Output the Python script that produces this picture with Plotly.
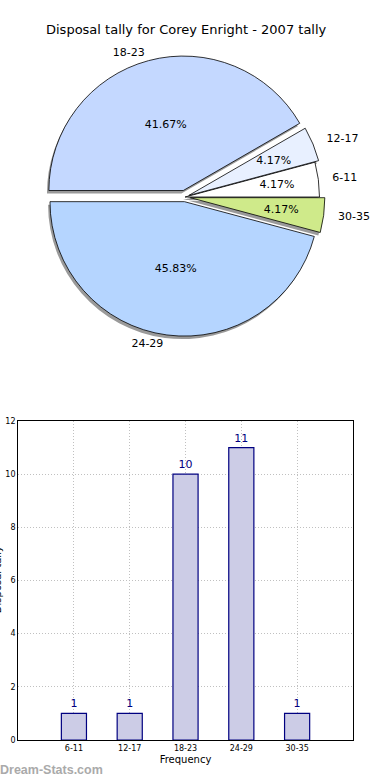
import plotly.graph_objects as go

# ---- data ----
pie_labels = ["6-11", "12-17", "18-23", "24-29", "30-35"]
pie_values = [1, 1, 10, 11, 1]
pie_colors = ["#ffffff", "#e8f0ff", "#c4d8ff", "#b5d5ff", "#cfea8a"]
pie_pull = [0.0, 0.03, 0.05, 0.035, 0.04]

bar_categories = ["6-11", "12-17", "18-23", "24-29", "30-35"]
bar_values = [1, 1, 10, 11, 1]
y_ticks = [0, 2, 4, 6, 8, 10, 12]

W, H = 390, 780
FONT = "DejaVu Sans"

def px_x(a, b):
    return [a / W, b / W]

def px_y(top, bottom):
    return [1 - bottom / H, 1 - top / H]

cx, cy, half = 194, 197, 148

def dom(scale, dx=0, dy=0):
    h = half * scale
    return dict(x=px_x(cx + dx - h, cx + dx + h), y=px_y(cy + dy - h, cy + dy + h))

small = [v <= 2 for v in pie_values]
pct_big = ["" if s else "%{percent:.2%}" for s in small]
pct_small = ["%{percent:.2%}" if s else "" for s in small]
lab_big = ["" if s else "%{label}" for s in small]
lab_small = ["%{label}" if s else "" for s in small]

ROT = 75
common = dict(labels=pie_labels, values=pie_values, sort=False,
              direction="counterclockwise", rotation=ROT, pull=pie_pull,
              hoverinfo="skip", showlegend=False)
clear = dict(colors=["rgba(0,0,0,0)"] * 5, line=dict(width=0))
tf = dict(family=FONT, size=11, color="#000000")

fig = go.Figure()

# shadow
fig.add_trace(go.Pie(**common, domain=dom(1.0, -2, 3),
    marker=dict(colors=["#9a9a9a"] * 5, line=dict(color="#9a9a9a", width=0)),
    textinfo="none"))
# main pie, percent text for large slices
fig.add_trace(go.Pie(**common, domain=dom(1.0),
    marker=dict(colors=pie_colors, line=dict(color="#000000", width=0.8)),
    texttemplate=pct_big, textposition="inside",
    insidetextorientation="horizontal", textfont=tf))
# percent text for small slices (placed further inward)
fig.add_trace(go.Pie(**common, domain=dom(0.78), marker=clear,
    texttemplate=pct_small, textposition="inside",
    insidetextorientation="horizontal", textfont=tf))
# category labels outside
fig.add_trace(go.Pie(**common, domain=dom(1.015), marker=clear,
    texttemplate=lab_big, textposition="outside", textfont=tf))
fig.add_trace(go.Pie(**common, domain=dom(1.08), marker=clear,
    texttemplate=lab_small, textposition="outside", textfont=tf))

fig.add_trace(go.Bar(
    x=bar_categories, y=bar_values, width=0.45,
    marker=dict(color="#ccccE6", line=dict(color="#000080", width=1.2)),
    text=[str(v) for v in bar_values], textposition="outside",
    textfont=dict(family=FONT, size=11, color="#000080"),
    cliponaxis=False, hoverinfo="skip", showlegend=False,
    xaxis="x", yaxis="y",
))

fig.update_layout(
    width=W, height=H, margin=dict(l=0, r=0, t=0, b=0),
    paper_bgcolor="white", plot_bgcolor="white",
    font=dict(family=FONT, color="#000000"),
    uniformtext=dict(minsize=11, mode="show"),
    xaxis=dict(domain=px_x(19, 370), range=[-1, 5], type="category",
               automargin=False,
               showline=True, linecolor="#000000", linewidth=1, mirror=True,
               showgrid=True, gridcolor="#c0c0c0", griddash="1px,2px", gridwidth=1,
               tickfont=dict(family=FONT, size=8, color="#000000"),
               ticks="", zeroline=False,
               title=dict(text="Frequency", font=dict(family=FONT, size=10), standoff=4)),
    yaxis=dict(domain=px_y(421, 740), range=[0, 12], tickvals=y_ticks,
               automargin=False,
               showline=True, linecolor="#000000", linewidth=1, mirror=True,
               showgrid=True, gridcolor="#c0c0c0", griddash="1px,2px", gridwidth=1,
               tickfont=dict(family=FONT, size=8, color="#000000"),
               ticks="", zeroline=False),
    annotations=[
        dict(text="Disposal tally for Corey Enright - 2007 tally",
             xref="paper", yref="paper", x=0.5, y=1 - 30 / H,
             xanchor="center", yanchor="middle", showarrow=False,
             font=dict(family=FONT, size=13, color="#000000")),
        dict(text="Disposal tally", textangle=-90, xref="paper", yref="paper",
             x=-3 / W, y=1 - 580 / H, xanchor="center", yanchor="middle",
             showarrow=False, font=dict(family=FONT, size=10, color="#000000")),
        dict(text="<b>Dream-Stats.com</b>", xref="paper", yref="paper",
             x=-2 / W, y=1 - 770 / H, xanchor="left", yanchor="middle",
             showarrow=False, font=dict(family="Liberation Sans", size=12.5, color="#aaaaaa")),
    ],
)

fig.write_html(
    "out.html",
    config={"displayModeBar": False},
    post_script="document.body.style.margin='0';document.body.style.overflow='hidden';",
)
